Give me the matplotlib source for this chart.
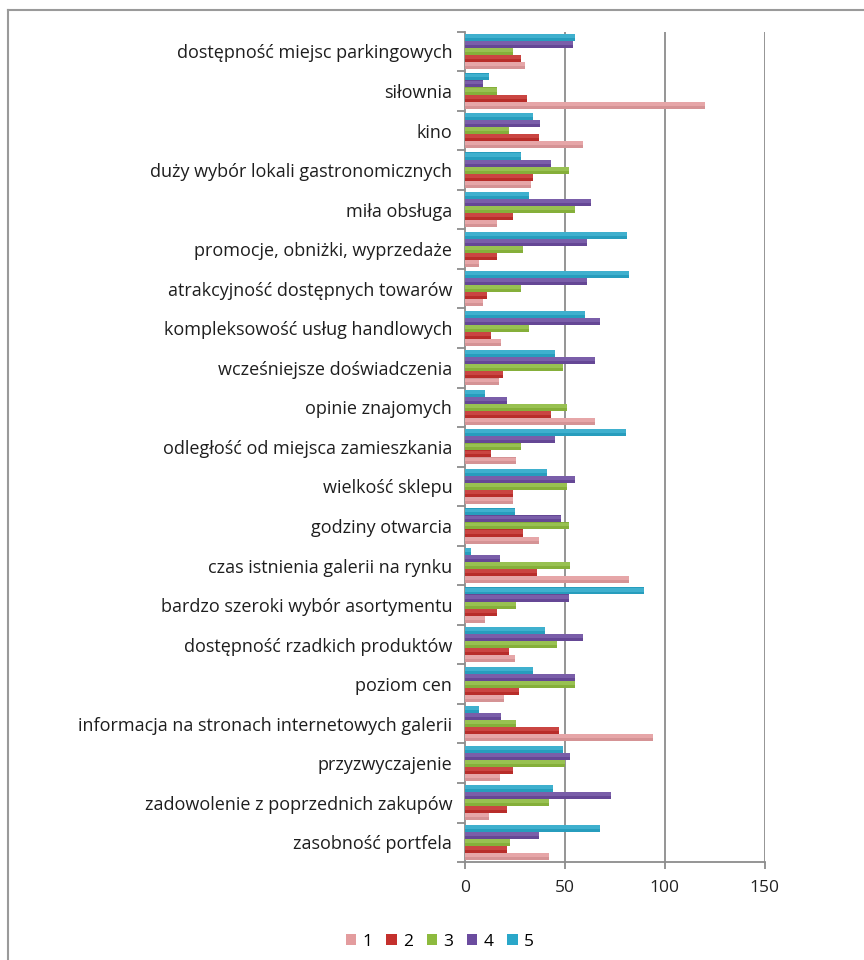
import numpy as np
import matplotlib
matplotlib.use("Agg")
import matplotlib.pyplot as plt
from matplotlib.lines import Line2D
from matplotlib.patches import Patch
from matplotlib.colors import to_rgb

plt.rcParams['font.family'] = ['Open Sans', 'DejaVu Sans']

# categories listed bottom -> top
categories = [
    "zasobność portfela",
    "zadowolenie z poprzednich zakupów",
    "przyzwyczajenie",
    "informacja na stronach internetowych galerii",
    "poziom cen",
    "dostępność rzadkich produktów",
    "bardzo szeroki wybór asortymentu",
    "czas istnienia galerii na rynku",
    "godziny otwarcia",
    "wielkość sklepu",
    "odległość od miejsca zamieszkania",
    "opinie znajomych",
    "wcześniejsze doświadczenia",
    "kompleksowość usług handlowych",
    "atrakcyjność dostępnych towarów",
    "promocje, obniżki, wyprzedaże",
    "miła obsługa",
    "duży wybór lokali gastronomicznych",
    "kino",
    "siłownia",
    "dostępność miejsc parkingowych",
]

s1 = [42, 12, 17.5, 94, 19.5, 25, 10, 82, 37, 24, 25.5, 65, 17, 18, 9, 7, 16, 33, 59, 120, 30]
s2 = [21, 21, 24, 47, 27, 22, 16, 36, 29, 24, 13, 43, 19, 13, 11, 16, 24, 34, 37, 31, 28]
s3 = [22.5, 42, 50, 25.5, 55, 46, 25.5, 52.5, 52, 51, 28, 51, 49, 32, 28, 29, 55, 52, 22, 16, 24]
s4 = [37, 73, 52.5, 18, 55, 59, 52, 17.5, 48, 55, 45, 21, 65, 67.5, 61, 61, 63, 43, 37.5, 9, 54]
s5 = [67.5, 44, 49, 7, 34, 40, 89.5, 3, 25, 41, 80.5, 10, 45, 60, 82, 81, 32, 28, 34, 12, 55]

series = [s1, s2, s3, s4, s5]
series_names = ["1", "2", "3", "4", "5"]
colors = ["#E39C9E", "#C4302D", "#8DBA3E", "#6B4C9F", "#2AA7C9"]

fig = plt.figure(figsize=(8.64, 9.6), dpi=100)
ax = fig.add_axes([0.538, 0.102, 0.347, 0.865])

n = len(categories)
y = np.arange(n)
bh = 0.178

def lighten(c, amt):
    r, g, b = to_rgb(c)
    return (r + (1 - r) * amt, g + (1 - g) * amt, b + (1 - b) * amt)

def darken(c, amt):
    r, g, b = to_rgb(c)
    return (r * (1 - amt), g * (1 - amt), b * (1 - amt))

for i, (vals, col) in enumerate(zip(series, colors)):
    pos = y - 2 * bh + i * bh
    # base bar with a softer highlight on the upper half
    ax.barh(pos, vals, height=bh, color=darken(col, 0.06), linewidth=0, zorder=3)
    ax.barh(pos + bh * 0.2, vals, height=bh * 0.55, color=lighten(col, 0.1),
            linewidth=0, zorder=3)

ax.set_xlim(0, 150)
ax.set_ylim(-0.5, n - 0.5)

grid_col = "#8C8C8C"
for xv in [50, 100, 150]:
    ax.axvline(xv, color=grid_col, linewidth=1.3, zorder=1)

for sp in ["top", "right"]:
    ax.spines[sp].set_visible(False)
for sp in ["left", "bottom"]:
    ax.spines[sp].set_color(grid_col)
    ax.spines[sp].set_linewidth(1.3)

ax.set_xticks([0, 50, 100, 150])
ax.set_xticklabels(["0", "50", "100", "150"])
ax.tick_params(axis="x", length=5, width=1.3, color=grid_col, labelsize=12.5,
               pad=8, labelcolor="#222222")

# ticks at category boundaries, labels at centers
ax.set_yticks(np.arange(-0.5, n, 1.0))
ax.set_yticklabels([])
ax.set_yticks(y, minor=True)
ax.set_yticklabels(categories, minor=True)
ax.tick_params(axis="y", which="major", length=6, width=1.3, color=grid_col)
ax.tick_params(axis="y", which="minor", length=0, pad=9, labelsize=13,
               labelcolor="#1E1E1E")

handles = [Patch(facecolor=c, edgecolor="none") for c in colors]
fig.legend(handles, series_names, loc="center", bbox_to_anchor=(0.509, 0.019),
           ncol=5, frameon=False, fontsize=12.5, handlelength=0.6, handleheight=0.6,
           handletextpad=0.35, columnspacing=0.8)

# outer chart frame (top and left edges)
fig.add_artist(Line2D([8 / 864, 1.0], [1 - 10 / 960, 1 - 10 / 960],
                      transform=fig.transFigure, color="#9A9A9A", linewidth=1.5))
fig.add_artist(Line2D([8 / 864, 8 / 864], [0.0, 1 - 10 / 960],
                      transform=fig.transFigure, color="#9A9A9A", linewidth=1.5))

fig.savefig("out.png", dpi=100, facecolor="white")
